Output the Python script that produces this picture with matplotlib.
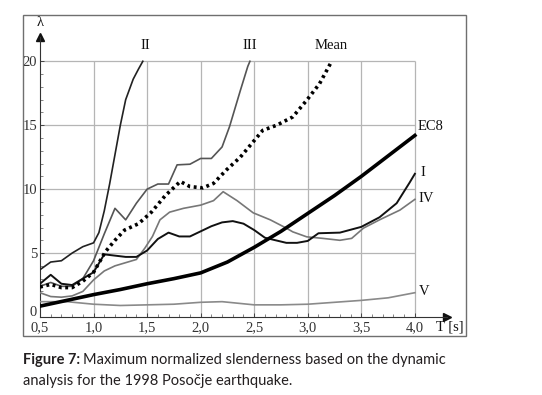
import numpy as np
import matplotlib.pyplot as plt
import matplotlib.transforms as mtransforms
from matplotlib.patches import Rectangle

# curve values (T in s, lambda)
t_I = [0.5, 0.6, 0.7, 0.8, 0.9, 1.0, 1.1, 1.2, 1.3, 1.4, 1.5, 1.6, 1.7, 1.8, 1.9, 2.0, 2.1, 2.2, 2.3, 2.4,
       2.5, 2.6, 2.7, 2.8, 2.9, 3.0, 3.05, 3.1, 3.3, 3.5, 3.67, 3.83, 3.95, 4.0]
lam_I = [2.6, 3.3, 2.6, 2.5, 3.0, 3.5, 4.9, 4.8, 4.7, 4.7, 5.2, 6.1, 6.6, 6.3, 6.3, 6.7, 7.1, 7.4, 7.5, 7.3,
         6.8, 6.2, 6.0, 5.8, 5.8, 5.95, 6.25, 6.55, 6.6, 7.05, 7.8, 8.9, 10.5, 11.2]

t_II = [0.5, 0.6, 0.7, 0.8, 0.9, 1.0, 1.05, 1.1, 1.15, 1.2, 1.25, 1.3, 1.37, 1.42, 1.46]
lam_II = [3.7, 4.3, 4.4, 5.0, 5.5, 5.8, 6.6, 8.3, 10.4, 12.7, 15.0, 17.0, 18.6, 19.4, 20.0]

t_III = [0.5, 0.6, 0.7, 0.8, 0.9, 1.0, 1.1, 1.2, 1.3, 1.4, 1.5, 1.6, 1.7, 1.78, 1.9, 2.0, 2.1,
         2.2, 2.27, 2.37, 2.44, 2.46]
lam_III = [2.4, 2.7, 2.4, 2.4, 3.0, 4.4, 6.5, 8.5, 7.6, 8.9, 10.0, 10.4, 10.4, 11.9, 11.95, 12.4, 12.4,
           13.3, 14.9, 17.7, 19.6, 20.0]

t_IV = [0.5, 0.6, 0.7, 0.8, 0.9, 1.0, 1.1, 1.2, 1.3, 1.4, 1.48, 1.55, 1.62, 1.71, 1.84, 2.0, 2.12,
        2.21, 2.34, 2.49, 2.65, 2.8, 2.86, 2.99, 3.14, 3.3, 3.41, 3.52, 3.67, 3.86, 4.0]
lam_IV = [1.9, 1.6, 1.55, 1.65, 2.0, 2.9, 3.6, 4.0, 4.25, 4.5, 5.4, 6.3, 7.6, 8.2, 8.5, 8.75, 9.1,
          9.8, 9.1, 8.15, 7.6, 6.95, 6.66, 6.27, 6.15, 6.0, 6.15, 6.95, 7.6, 8.36, 9.2]

t_V = [0.5, 0.75, 1.0, 1.25, 1.5, 1.75, 2.0, 2.2, 2.5, 2.75, 3.0, 3.25, 3.5, 3.75, 4.0]
lam_V = [1.2, 1.2, 1.0, 0.9, 0.95, 1.0, 1.15, 1.2, 0.95, 0.95, 1.0, 1.15, 1.3, 1.5, 1.9]

t_mean = [0.5, 0.6, 0.7, 0.8, 0.9, 1.0, 1.11, 1.2, 1.29, 1.42, 1.54, 1.67, 1.81, 1.9, 2.02, 2.12,
          2.24, 2.37, 2.49, 2.58, 2.71, 2.86, 2.99, 3.11, 3.22]
lam_mean = [2.35, 2.55, 2.3, 2.3, 2.8, 3.5, 5.1, 6.0, 6.8, 7.3, 8.2, 9.5, 10.6, 10.2, 10.1, 10.45,
            11.5, 12.5, 13.7, 14.6, 15.0, 15.65, 16.95, 18.25, 19.95]

t_ec8 = [0.5, 0.75, 1.0, 1.25, 1.5, 1.75, 2.0, 2.25, 2.5, 2.75, 3.0, 3.25, 3.5, 3.75, 4.0]
lam_ec8 = [0.85, 1.3, 1.75, 2.15, 2.6, 3.0, 3.45, 4.3, 5.45, 6.7, 8.1, 9.5, 11.0, 12.6, 14.2]

x_ticks = [0.5, 1.0, 1.5, 2.0, 2.5, 3.0, 3.5, 4.0]
y_ticks = [0, 5, 10, 15, 20]

serif = 'Liberation Serif'

fig = plt.figure(figsize=(5.42, 3.95), dpi=100)
ax = fig.add_axes([40 / 542, 78 / 395, 407 / 542, 280 / 395])
ax.set_xlim(0.5, 4.3)
ax.set_ylim(0, 21.9)

# grid only inside the data box
ax.vlines(x_ticks[1:], 0, 20, color='#b5b5b5', lw=0.9, zorder=1)
ax.hlines(y_ticks[1:], 0.5, 4.0, color='#b5b5b5', lw=0.9, zorder=1)

ax.plot(t_V, lam_V, color='#8a8a8a', lw=1.2, zorder=3)
ax.plot(t_IV, lam_IV, color='#777777', lw=1.2, zorder=3)
ax.plot(t_III, lam_III, color='#555555', lw=1.2, zorder=3)
ax.plot(t_II, lam_II, color='#222222', lw=1.2, zorder=3)
ax.plot(t_I, lam_I, color='#111111', lw=1.4, zorder=4)
ax.plot(t_ec8, lam_ec8, color='#000000', lw=2.6, zorder=5)
ax.plot(t_mean, lam_mean, color='#000000', lw=2.6, ls=(0, (0.8, 1.0)), zorder=5)

for s in ['top', 'right']:
    ax.spines[s].set_visible(False)
for s in ['left', 'bottom']:
    ax.spines[s].set_color('#333333')
    ax.spines[s].set_linewidth(0.8)

# axis arrows
ax.plot(1, 0, '>', color='#111111', ms=6, transform=ax.transAxes, clip_on=False)
ax.plot(0, 1, '^', color='#111111', ms=6, transform=ax.transAxes, clip_on=False)

ax.set_xticks(x_ticks)
ax.set_xticklabels([f'{v:.1f}'.replace('.', ',') for v in x_ticks], family=serif, fontsize=10.5)
ax.set_yticks(y_ticks)
ax.set_yticklabels([str(v) for v in y_ticks], family=serif, fontsize=10.5)
ax.set_xticks(np.arange(0.5, 4.01, 0.1), minor=True)
ax.set_yticks(np.arange(0, 20.1, 1), minor=True)
ax.tick_params(which='major', direction='in', length=3, width=0.6, colors='#333333')
ax.tick_params(axis='x', which='major', pad=3)
ax.tick_params(axis='y', which='major', pad=2)
ax.tick_params(which='minor', direction='in', length=2, width=0.5, colors='#555555')

# lift the "0" a little so it clears the "0,5"
zero = ax.get_yticklabels()[0]
zero.set_transform(zero.get_transform() + mtransforms.ScaledTranslation(0, 4 / 72, fig.dpi_scale_trans))

lab = dict(family=serif, fontsize=10.5, color='#111111')
ax.text(1.48, 21.2, 'II', ha='center', va='center', **lab)
ax.text(2.46, 21.2, 'III', ha='center', va='center', **lab)
ax.text(3.22, 21.2, 'Mean', ha='center', va='center', **lab)
ax.text(4.03, 14.9, 'EC8', ha='left', va='center', **lab)
ax.text(4.05, 11.3, 'I', ha='left', va='center', **lab)
ax.text(4.03, 9.3, 'IV', ha='left', va='center', **lab)
ax.text(4.04, 2.0, 'V', ha='left', va='center', **lab)
ax.text(4.2, -0.75, 'T [s]', ha='left', va='center', **lab)
ax.text(0.5, 23.0, 'λ', ha='center', va='center', clip_on=False, **lab)

# frame around the figure
fig.patches.append(Rectangle((23 / 542, 59 / 395), 443 / 542, 321 / 395, transform=fig.transFigure,
                             fill=False, ec='#6f6f6f', lw=1.0))

# caption
cap = dict(family='Lato', fontsize=10.5, color='#231f20', va='center')
t1 = fig.text(23 / 542, 1 - 360 / 395, 'Figure 7:', weight='bold', **cap)
fig.canvas.draw()
bb = t1.get_window_extent(fig.canvas.get_renderer())
fig.text(bb.x1 / fig.bbox.width + 0.006, 1 - 360 / 395,
         'Maximum normalized slenderness based on the dynamic', **cap)
fig.text(23 / 542, 1 - 381 / 395, 'analysis for the 1998 Posočje earthquake.', **cap)

fig.savefig('out.png', dpi=100)
